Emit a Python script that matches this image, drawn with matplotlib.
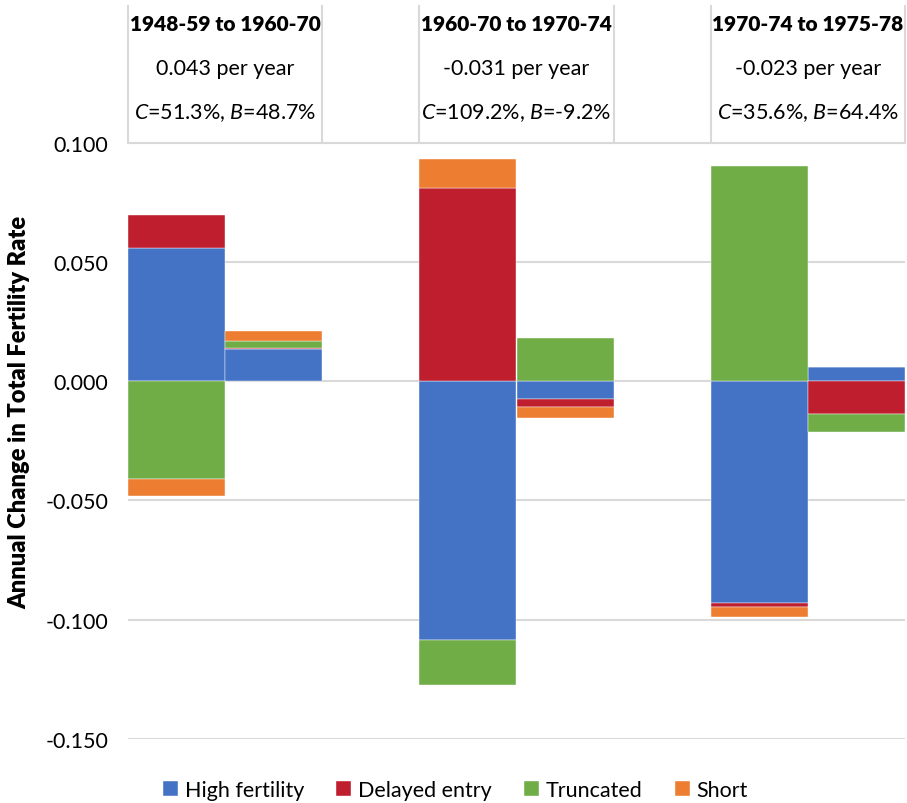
import matplotlib.pyplot as plt
import numpy as np

plt.rcParams["font.family"] = ["Lato", "DejaVu Sans"]
plt.rcParams["mathtext.fontset"] = "custom"
plt.rcParams["mathtext.rm"] = "Lato"
plt.rcParams["mathtext.it"] = "Lato:italic"

# three period transitions, each split into a C and a B bar
periods = ["1948-59 to 1960-70", "1960-70 to 1970-74", "1970-74 to 1975-78"]
rates = ["0.043", "-0.031", "-0.023"]
share_c = ["51.3%", "109.2%", "35.6%"]
share_b = ["48.7%", "-9.2%", "64.4%"]

series = ["High fertility", "Delayed entry", "Truncated", "Short"]
colors = ["#4472C4", "#BE1E2D", "#70AD47", "#ED7D31"]

# bar order: period1 C, period1 B, period2 C, period2 B, period3 C, period3 B
high_fertility = [0.0561, 0.0136, -0.1084, -0.0076, -0.0930, 0.0059]
delayed_entry = [0.0138, 0.0005, 0.0812, -0.0032, -0.0017, -0.0137]
truncated = [-0.0409, 0.0026, -0.0189, 0.0180, 0.0903, -0.0076]
short = [-0.0071, 0.0044, 0.0120, -0.0047, -0.0041, 0.0]

values = np.array([high_fertility, delayed_entry, truncated, short])
x = np.array([0, 1, 3, 4, 6, 7]) + 0.5

fig = plt.figure(figsize=(9.07, 8.04), dpi=100)
ax = fig.add_axes([128 / 907, 64.2 / 804, 777 / 907, 739.8 / 804])

pos_base = np.zeros(6)
neg_base = np.zeros(6)
for vals, name, col in zip(values, series, colors):
    bottom = np.where(vals >= 0, pos_base, neg_base)
    ax.bar(x, vals, width=1.0, bottom=bottom, color=col, label=name,
           edgecolor="white", linewidth=0.3, zorder=3)
    pos_base += np.clip(vals, 0, None)
    neg_base += np.clip(vals, None, 0)

ax.set_xlim(0, 8)
ax.set_ylim(-0.15, 0.1604)
ticks = np.arange(-0.15, 0.101, 0.05)
ax.set_yticks(ticks)
ax.set_yticklabels([f"{t:.3f}" for t in ticks], fontsize=15.5)
ax.set_xticks([])
ax.tick_params(axis="y", length=0, pad=14)
for t in ticks:
    ax.axhline(t, color="#d9d9d9", linewidth=1.5, zorder=1)
for s in ax.spines.values():
    s.set_visible(False)

ax.set_ylabel("Annual Change in Total Fertility Rate", fontsize=17,
              fontweight="heavy")
ax.yaxis.set_label_coords(-0.126, 0.442)

# header boxes above the plot
for i in range(3):
    left, right = 3 * i, 3 * i + 2
    for xx in (left, right):
        ax.plot([xx, xx], [0.1, 0.1575], color="#d9d9d9", linewidth=1.5,
                zorder=1, clip_on=False)
    cx = (left + right) / 2
    ax.text(cx, 0.1500, periods[i], ha="center", va="center",
            fontsize=15, fontweight="heavy")
    ax.text(cx, 0.1315, f"{rates[i]} per year", ha="center", va="center",
            fontsize=15.5)
    ax.text(cx, 0.1128, rf"$\it{{C}}$={share_c[i]}, $\it{{B}}$={share_b[i]}",
            ha="center", va="center", fontsize=15.5)

fig.legend(loc="lower center", ncol=4, frameon=False, fontsize=15.5,
           bbox_to_anchor=(0.502, -0.02), handlelength=0.7, handleheight=0.7,
           handletextpad=0.3, columnspacing=1.5)

fig.savefig("out.png", dpi=100)
